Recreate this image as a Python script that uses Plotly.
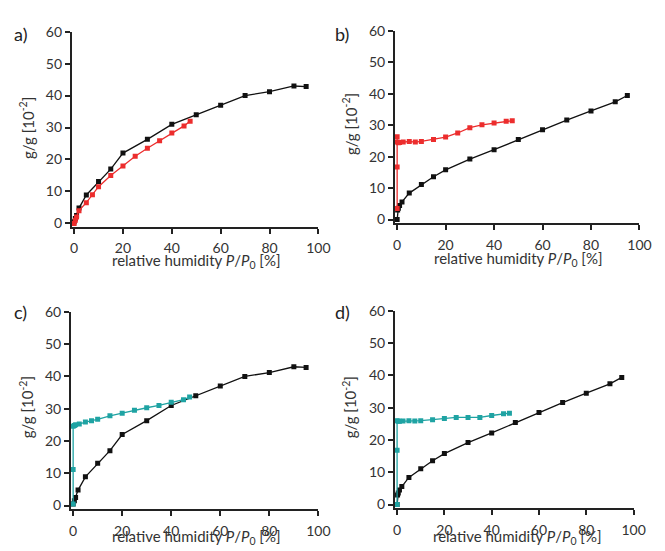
import plotly.graph_objects as go
from plotly.subplots import make_subplots

# 数据 (读自参考图)
black_a_x = [0, 0.5, 1, 2, 5, 10, 15, 20, 30, 40, 50, 60, 70, 80, 90, 95]
black_a_y = [0.5, 1.5, 2.5, 4.8, 8.9, 13.1, 17.0, 22.0, 26.3, 31.0, 34.0, 37.0, 40.0, 41.2, 43.0, 42.8]

red_a_x = [0, 0.5, 1, 2, 5, 7.5, 10, 15, 20, 25, 30, 35, 40, 45, 47.5]
red_a_y = [0, 1.0, 2.0, 4.0, 6.5, 9.0, 11.5, 15.0, 18.0, 21.0, 23.5, 25.9, 28.3, 30.5, 32.0]

black_b_x = [0, 0.2, 0.5, 1, 2, 5, 10, 15, 20, 30, 40, 50, 60, 70, 80, 90, 95]
black_b_y = [0, 3.0, 3.6, 4.5, 5.6, 8.4, 11.1, 13.6, 15.8, 19.2, 22.2, 25.4, 28.5, 31.6, 34.5, 37.4, 39.4]

red_b_x = [0, 0, 0, 0, 0.5, 1, 2.5, 5, 7.5, 10, 15, 20, 25, 30, 35, 40, 45, 47.5]
red_b_y = [3.5, 16.7, 26.3, 24.6, 24.4, 24.5, 24.6, 24.8, 24.6, 24.8, 25.4, 26.2, 27.5, 29.2, 30.1, 30.7, 31.2, 31.4]

teal_c_x = [0, 0, 0, 0.5, 1, 2.5, 5, 7.5, 10, 15, 20, 25, 30, 35, 40, 45, 47.5]
teal_c_y = [0.5, 11.2, 24.6, 24.8, 25.0, 25.3, 25.9, 26.3, 26.7, 27.8, 28.6, 29.5, 30.3, 31.0, 32.0, 32.8, 33.6]

teal_d_x = [0, 0, 0, 0.5, 1, 2.5, 5, 7.5, 10, 15, 20, 25, 30, 35, 40, 45, 47.5]
teal_d_y = [0, 16.8, 26.0, 25.8, 25.8, 25.9, 26.0, 25.9, 26.0, 26.3, 26.7, 27.0, 27.0, 27.0, 27.6, 28.1, 28.3]

panel_labels = ["a)", "b)", "c)", "d)"]
x_ticks = [0, 20, 40, 60, 80, 100]
y_ticks = [0, 10, 20, 30, 40, 50, 60]

BLACK = "#111111"
RED = "#ec2d2d"
TEAL = "#1fa3a3"
W, H = 665, 551
OFF = 8  # 页面 body 默认 8px 边距


def px(x, y):
    return (x - OFF) / W, 1 - (y - OFF) / H


fig = make_subplots(rows=2, cols=2)

panels = [
    (1, 1, [(black_a_x, black_a_y, BLACK), (red_a_x, red_a_y, RED)]),
    (1, 2, [(black_b_x, black_b_y, BLACK), (red_b_x, red_b_y, RED)]),
    (2, 1, [(black_a_x, black_a_y, BLACK), (teal_c_x, teal_c_y, TEAL)]),
    (2, 2, [(black_b_x, black_b_y, BLACK), (teal_d_x, teal_d_y, TEAL)]),
]
for r, c, series in panels:
    for xs, ys, col in series:
        fig.add_trace(go.Scatter(
            x=xs, y=ys, mode="lines+markers",
            line=dict(color=col, width=1.3),
            marker=dict(symbol="square", size=5, color=col),
            showlegend=False,
        ), row=r, col=c)

# 轴域 (参考图像素: 左, 右, 下, 上)
x_domains = [(71, 323), (401, 651), (70, 323), (401, 645)]
y_domains = [(223, 23), (219, 22), (512, 310), (511, 309)]

axis_style = dict(
    showline=True, linecolor="#222222", linewidth=1.5,
    ticks="outside", ticklen=5, tickwidth=1.5, tickcolor="#222222",
    showgrid=False, zeroline=False,
    tickfont=dict(size=14, color="#333333"),
)
for i in range(4):
    xa = "xaxis" if i == 0 else f"xaxis{i + 1}"
    ya = "yaxis" if i == 0 else f"yaxis{i + 1}"
    x0, x1 = x_domains[i]
    yb, yt = y_domains[i]
    fig.layout[xa].update(domain=[(x0 - OFF) / W, (x1 - OFF) / W], range=[-1, 100],
                          tickvals=x_ticks, ticklabelstandoff=3, **axis_style)
    fig.layout[ya].update(domain=[1 - (yb - OFF) / H, 1 - (yt - OFF) / H], range=[-1.1, 60],
                          tickvals=y_ticks, **axis_style)

annotations = []
label_pos = [(19, 25), (347, 25), (19, 310), (348, 310)]
ytitle_pos = [(25, 122), (355, 118), (25, 408), (355, 408)]
xtitle_pos = [(198, 258), (527, 256), (198, 541), (526, 541)]
common = dict(xref="paper", yref="paper", showarrow=False, xanchor="center", yanchor="middle")
for i in range(4):
    x, y = px(*label_pos[i])
    annotations.append(dict(x=x, y=y, text=panel_labels[i],
                            font=dict(size=18, color="#222222"), **common))
    x, y = px(*ytitle_pos[i])
    annotations.append(dict(x=x, y=y, textangle=-90,
                            text="g/g [10<sup>-2</sup>]",
                            font=dict(size=15, color="#333333"), **common))
    x, y = px(*xtitle_pos[i])
    annotations.append(dict(x=x, y=y,
                            text="relative humidity <i>P</i>/<i>P</i><sub>0</sub> [%]",
                            font=dict(size=15, color="#333333"), **common))

fig.update_layout(
    width=W, height=H,
    margin=dict(l=0, r=0, t=0, b=0),
    paper_bgcolor="white", plot_bgcolor="white",
    font=dict(family="Lato, Open Sans, sans-serif"),
    annotations=annotations,
)

fig.write_html("out.html")
